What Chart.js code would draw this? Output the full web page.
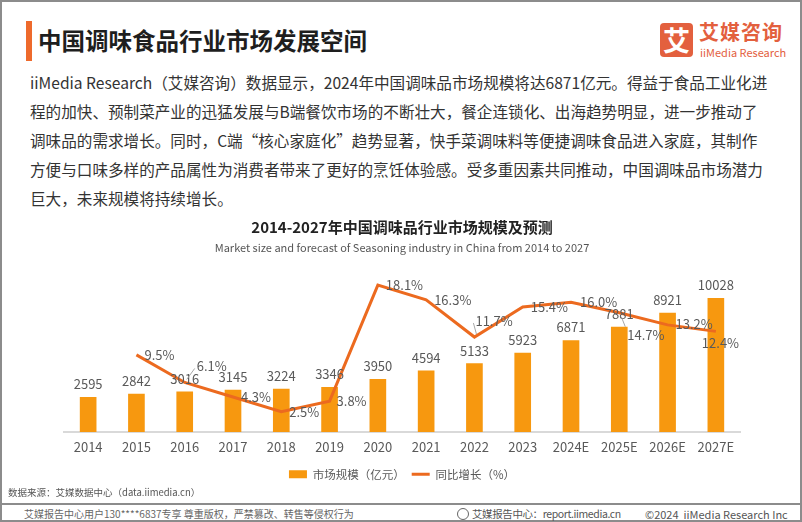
<!DOCTYPE html>
<html>
<head>
<meta charset="utf-8">
<script src="https://cdn.jsdelivr.net/npm/chart.js@4.4.1/dist/chart.umd.min.js"></script>
<style>
  html, body { margin: 0; padding: 0; background: #fff; }
  body { width: 802px; height: 522px; position: relative; overflow: hidden;
         font-family: 'Noto Sans CJK SC', 'Noto Sans', sans-serif; }
  .frame { position: absolute; left: 0; top: 0; width: 798px; height: 518px; border: 2px solid #8c8c8c; }
  .bar { position: absolute; left: 26px; top: 21px; width: 6px; height: 40px; background: #ee6a2c; }
  .title { position: absolute; left: 38px; top: 25px; font-size: 23.5px; font-weight: bold; color: #1e1e1e; line-height: 30px; }
  .logo-box { position: absolute; left: 660px; top: 23px; width: 33px; height: 34px; background: #e3603e; border-radius: 4px;
              color: #fff; font-size: 27px; font-weight: bold; line-height: 34px; text-align: center; }
  .logo-cn { position: absolute; left: 699px; top: 19px; font-size: 20px; font-weight: bold; color: #e3603e; line-height: 26px; letter-spacing: 1px; }
  .logo-en { position: absolute; left: 700px; top: 45px; font-size: 11px; color: #e3603e; line-height: 14px; }
  .para { position: absolute; left: 30px; top: 68px; font-size: 15.6px; line-height: 29px; color: #333; white-space: nowrap; }
  #wrap { position: absolute; left: 0; top: 205px; width: 802px; height: 288px; }
  .source { position: absolute; left: 8px; top: 485px; font-size: 9.5px; color: #555; line-height: 14px; }
  .sep { position: absolute; left: 0; top: 503px; width: 802px; height: 2px; background: #8c8c8c; }
  .foot-l { position: absolute; left: 24px; top: 506px; font-size: 10px; color: #666; line-height: 16px; white-space: nowrap; }
  .foot-r1 { position: absolute; left: 457px; top: 506px; font-size: 10.5px; color: #555; line-height: 16px; white-space: nowrap; letter-spacing: -0.4px; }
  .foot-r2 { position: absolute; left: 645px; top: 506px; font-size: 11px; color: #555; line-height: 16px; white-space: nowrap; }
  .ico { display: inline-block; width: 10px; height: 10px; border: 1.5px solid #666; border-radius: 50%; vertical-align: -2px; margin-right: 3px; }
</style>
</head>
<body>
<div class="frame"></div>
<div class="bar"></div>
<div class="title">中国调味食品行业市场发展空间</div>
<div class="logo-box">艾</div>
<div class="logo-cn">艾媒咨询</div>
<div class="logo-en">iiMedia Research</div>
<div class="para">
iiMedia Research（艾媒咨询）数据显示，2024年中国调味品市场规模将达6871亿元。得益于食品工业化进<br>
程的加快、预制菜产业的迅猛发展与B端餐饮市场的不断壮大，餐企连锁化、出海趋势明显，进一步推动了<br>
调味品的需求增长。同时，C端“核心家庭化”趋势显著，快手菜调味料等便捷调味食品进入家庭，其制作<br>
方便与口味多样的产品属性为消费者带来了更好的烹饪体验感。受多重因素共同推动，中国调味品市场潜力<br>
巨大，未来规模将持续增长。
</div>
<div id="wrap"><canvas id="sizeChart"></canvas></div>
<div class="source">数据来源：艾媒数据中心（data.iimedia.cn）</div>
<div class="sep"></div>
<div class="foot-l">艾媒报告中心用户130****6837专享 尊重版权，严禁篡改、转售等侵权行为</div>
<div class="foot-r1"><span class="ico"></span>艾媒报告中心：report.iimedia.cn</div>
<div class="foot-r2">©2024&nbsp;&nbsp;iiMedia Research Inc</div>

<script>
// chart data
const years = ['2014', '2015', '2016', '2017', '2018', '2019', '2020', '2021', '2022', '2023', '2024E', '2025E', '2026E', '2027E'];
const marketSize = [2595, 2842, 3016, 3145, 3224, 3346, 3950, 4594, 5133, 5923, 6871, 7881, 8921, 10028];
const growthRate = [null, 9.5, 6.1, 4.3, 2.5, 3.8, 18.1, 16.3, 11.7, 15.4, 16.0, 14.7, 13.2, 12.4];

// where each % label sits relative to its point (px)
const pctLabelDx = [0, 8, 12, 8, 8, 7, 8, 8, 1, 8, 9, 8, 8, -14];
const pctLabelDy = [0, 0, -16, 0, 0, 0, 0, 0, -16, 0, 0, 22, -1, 12];
const pctLeader = [0, 0, 1, 0, 0, 0, 0, 0, 1, 0, 0, 1, 0, 0];

const barColor = '#f7980f';
const lineColor = '#ec6a1f';
const labelColor = '#595959';
const fontFamily = "'Noto Sans CJK SC', 'Noto Sans', sans-serif";

Chart.defaults.font.family = fontFamily;
Chart.defaults.color = labelColor;

// draws the value labels above bars and next to the line points
const valueLabels = {
    id: 'valueLabels',
    afterDatasetsDraw(chart) {
        const ctx = chart.ctx;
        ctx.save();
        ctx.font = '13px ' + fontFamily;
        ctx.fillStyle = labelColor;

        const barMeta = chart.getDatasetMeta(0);
        ctx.textAlign = 'center';
        ctx.textBaseline = 'middle';
        barMeta.data.forEach((bar, i) => {
            ctx.fillText(String(marketSize[i]), bar.x, bar.y - 13);
        });

        const lineMeta = chart.getDatasetMeta(1);
        ctx.textAlign = 'left';
        lineMeta.data.forEach((pt, i) => {
            if (growthRate[i] == null) return;
            const lx = pt.x + pctLabelDx[i];
            const ly = pt.y + pctLabelDy[i];
            if (pctLeader[i]) {
                ctx.strokeStyle = '#a6a6a6';
                ctx.lineWidth = 1;
                ctx.beginPath();
                ctx.moveTo(pt.x + 2, pt.y + (pctLabelDy[i] > 0 ? 4 : -3));
                ctx.lineTo(lx - 2, ly + (pctLabelDy[i] > 0 ? -8 : 2));
                ctx.stroke();
            }
            ctx.fillText(growthRate[i].toFixed(1) + '%', lx, ly);
        });
        ctx.restore();
    }
};

const ctx = document.getElementById('sizeChart').getContext('2d');
const sizeChart = new Chart(ctx, {
    type: 'bar',
    data: {
        labels: years,
        datasets: [{
            label: '市场规模（亿元）',
            data: marketSize,
            backgroundColor: barColor,
            borderWidth: 0,
            barThickness: 16,
            pointStyle: 'rect',
            yAxisID: 'y',
            order: 2
        }, {
            label: '同比增长（%）',
            type: 'line',
            data: growthRate,
            borderColor: lineColor,
            backgroundColor: lineColor,
            borderWidth: 3,
            pointRadius: 0,
            tension: 0,
            clip: false,
            pointStyle: 'line',
            yAxisID: 'y1',
            order: 1
        }]
    },
    options: {
        responsive: true,
        maintainAspectRatio: false,
        animation: false,
        layout: {
            padding: { left: 64, right: 62, top: 0, bottom: 3 }
        },
        scales: {
            x: {
                grid: { display: false, drawTicks: false },
                border: { display: true, color: '#d9d9d9', width: 2 },
                ticks: { padding: 7, color: labelColor, font: { size: 13 } }
            },
            y: {
                display: false,
                min: 0,
                max: 12000
            },
            y1: {
                display: false,
                min: 0,
                max: 19.7
            }
        },
        plugins: {
            title: {
                display: true,
                text: '2014-2027年中国调味品行业市场规模及预测',
                color: '#222',
                font: { size: 15, weight: 'bold' },
                padding: { top: 13, bottom: 0 }
            },
            subtitle: {
                display: true,
                text: 'Market size and forecast of Seasoning industry in China from 2014 to 2027',
                color: '#555',
                font: { size: 11 },
                padding: { top: 5, bottom: 18 }
            },
            legend: {
                position: 'bottom',
                labels: {
                    usePointStyle: true,
                    pointStyleWidth: 18,
                    boxHeight: 8,
                    padding: 7,
                    color: labelColor,
                    font: { size: 11.5 },
                    sort: (a, b) => a.datasetIndex - b.datasetIndex
                }
            },
            tooltip: { enabled: false }
        }
    },
    plugins: [valueLabels]
});
</script>
</body>
</html>
